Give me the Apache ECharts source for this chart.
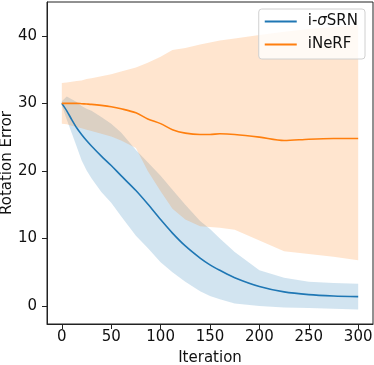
<!DOCTYPE html>
<html>
<head>
<meta charset="utf-8">
<script src="https://cdn.jsdelivr.net/npm/echarts@6/dist/echarts.min.js"></script>
<style>
  html, body { margin: 0; padding: 0; background: #fff; }
  #chart { width: 374px; height: 365px; }
</style>
</head>
<body>
<div id="chart"></div>
<script>
// 迭代次数
const iters = [0, 5, 10, 15, 20, 25, 30, 40, 50, 60, 75, 87, 100, 112, 125, 140, 150, 160, 175, 200, 225, 250, 275, 300];

// i-σSRN
const srnMean = [30, 28.9, 27.6, 26.4, 25.4, 24.5, 23.7, 22.2, 20.8, 19.3, 17.1, 15.1, 12.8, 10.8, 8.9, 7.1, 6.1, 5.3, 4.2, 2.9, 2.1, 1.7, 1.5, 1.4];
const srnLo = [29.7, 27.6, 25.6, 23.6, 21.6, 20.1, 18.9, 16.9, 15.3, 13.3, 10.4, 8.6, 6.5, 5.0, 3.6, 2.2, 1.5, 1.0, 0.4, 0.0, -0.2, -0.3, -0.4, -0.5];
const srnHi = [30.3, 31.0, 30.6, 30.2, 29.6, 29.2, 28.9, 28.0, 27.0, 25.7, 23.1, 21.3, 19.3, 17.2, 15.0, 12.6, 11.4, 10.0, 8.0, 5.3, 4.2, 3.6, 3.4, 3.3];

// iNeRF
const nerfMean = [30, 30, 30, 30, 29.95, 29.9, 29.85, 29.7, 29.5, 29.2, 28.6, 27.7, 27.0, 26.1, 25.6, 25.4, 25.4, 25.5, 25.4, 25.0, 24.5, 24.7, 24.8, 24.8];
const nerfLo = [27.0, 26.9, 26.7, 26.5, 26.3, 26.1, 25.9, 25.5, 25.1, 24.5, 23.4, 20.0, 17.0, 14.4, 12.8, 11.8, 11.7, 11.6, 11.3, 9.7, 8.1, 7.7, 7.3, 6.8];
const nerfHi = [33.0, 33.1, 33.2, 33.3, 33.4, 33.6, 33.7, 34.0, 34.3, 34.7, 35.3, 36.0, 36.9, 37.9, 38.2, 38.7, 39.0, 39.3, 39.6, 40.1, 40.6, 41.0, 41.3, 41.6];

const xTicks = [0, 50, 100, 150, 200, 250, 300];
const yTicks = [0, 10, 20, 30, 40];

const BLUE = '#1f77b4';
const ORANGE = '#ff7f0e';
const FONT = 'DejaVu Sans';

const pairs = (ys) => iters.map((x, i) => [x, ys[i]]);

// 阴影带：上边界正序 + 下边界倒序 拼成多边形
const bandSeries = (name, lo, hi, color) => ({
  type: 'custom',
  name: name,
  silent: true,
  data: iters.map((x, i) => [x, lo[i], hi[i]]),
  encode: {x: 0, y: [1, 2]},
  renderItem: function (params, api) {
    if (params.dataIndex !== 0) return null;
    const pts = [];
    for (let i = 0; i < iters.length; i++) pts.push(api.coord([iters[i], hi[i]]));
    for (let i = iters.length - 1; i >= 0; i--) pts.push(api.coord([iters[i], lo[i]]));
    return {
      type: 'polygon',
      shape: {points: pts},
      style: {fill: color, opacity: 0.2}
    };
  }
});

const myChart = echarts.init(document.getElementById('chart'));
const option = {
  animation: false,
  textStyle: {fontFamily: FONT},
  grid: {
    left: 47, right: 1, top: 2, bottom: 41,
    containLabel: false,
    outerBoundsMode: 'none',
    show: true, borderColor: '#222', borderWidth: 1, backgroundColor: 'transparent'
  },
  legend: {
    orient: 'vertical',
    right: 9,
    top: 9,
    padding: [4, 7, 6, 6],
    itemGap: 6,
    itemWidth: 32,
    itemHeight: 2,
    icon: 'rect',
    backgroundColor: 'rgba(255,255,255,0.8)',
    borderColor: '#d0d0d0',
    borderWidth: 1,
    borderRadius: 3,
    data: ['i-σSRN', 'iNeRF'],
    formatter: function (name) {
      return name === 'i-σSRN' ? 'i-{it|σ}SRN' : name;
    },
    textStyle: {
      fontFamily: FONT,
      fontSize: 15,
      lineHeight: 17,
      color: '#111',
      padding: [0, 0, 0, 6],
      rich: {
        it: {fontFamily: FONT, fontSize: 15, lineHeight: 17, fontStyle: 'italic', color: '#111'}
      }
    }
  },
  xAxis: {
    type: 'value',
    min: -15,
    max: 315,
    name: 'Iteration',
    nameLocation: 'middle',
    nameGap: 27,
    nameMoveOverlap: false,
    nameTextStyle: {fontFamily: FONT, fontSize: 15, color: '#111'},
    axisLine: {show: true, onZero: false, lineStyle: {color: '#222', width: 1}},
    axisTick: {show: true, inside: false, length: 5, customValues: xTicks, lineStyle: {color: '#222'}},
    axisLabel: {customValues: xTicks, margin: 6, fontFamily: FONT, fontSize: 15, color: '#111'},
    splitLine: {show: false}
  },
  yAxis: {
    type: 'value',
    min: -2.65,
    max: 45,
    name: 'Rotation Error',
    nameLocation: 'middle',
    nameGap: 32,
    nameMoveOverlap: false,
    nameTextStyle: {fontFamily: FONT, fontSize: 15, color: '#111'},
    axisLine: {show: true, onZero: false, lineStyle: {color: '#222', width: 1}},
    axisTick: {show: true, inside: false, length: 5, customValues: yTicks, lineStyle: {color: '#222'}},
    axisLabel: {customValues: yTicks, margin: 10, fontFamily: FONT, fontSize: 15, color: '#111'},
    splitLine: {show: false}
  },
  series: [
    bandSeries('srnBand', srnLo, srnHi, BLUE),
    {
      name: 'i-σSRN',
      type: 'line',
      data: pairs(srnMean),
      showSymbol: false,
      smooth: 0.3,
      lineStyle: {color: BLUE, width: 1.6},
      itemStyle: {color: BLUE}
    },
    bandSeries('nerfBand', nerfLo, nerfHi, ORANGE),
    {
      name: 'iNeRF',
      type: 'line',
      data: pairs(nerfMean),
      showSymbol: false,
      smooth: 0.3,
      lineStyle: {color: ORANGE, width: 1.6},
      itemStyle: {color: ORANGE}
    }
  ]
};
myChart.setOption(option);
</script>
</body>
</html>
